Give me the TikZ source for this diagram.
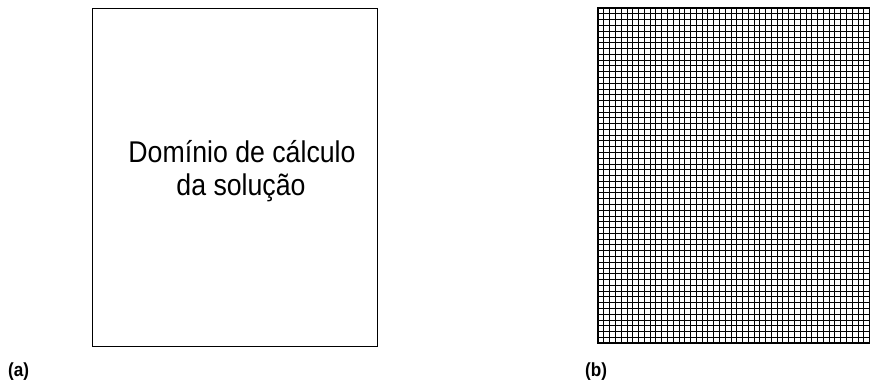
\documentclass[tikz,border=0pt]{standalone}
\usepackage{fontspec}
\setmainfont{Liberation Sans}
\begin{document}
\begin{tikzpicture}[x=1pt,y=-1pt,
  boxline/.style={draw=black,line width=0.9pt},
  gridline/.style={draw=black,line width=0.7pt},
  domtext/.style={font=\fontsize{30}{33}\selectfont\addfontfeatures{FakeStretch=0.89},align=center,inner sep=0pt},
  sublabel/.style={font=\fontsize{19}{22}\selectfont\bfseries\addfontfeatures{FakeStretch=0.9},anchor=base west,inner sep=0pt}]
\useasboundingbox (0,0) rectangle (870,388);
% (a)
\node[boxline,minimum width=285pt,minimum height=338pt,anchor=north west,inner sep=0pt] (dom) at (92,8) {};
\node[domtext,anchor=base] (t1) at (242,162) {Domínio de cálculo};
\node[domtext,anchor=base] (t2) at (241,195) {da solução};
\node[sublabel] (la) at (8,376) {(a)};
% (b)
\begin{scope}
\clip (596,0) rectangle (870,388);
\foreach \i in {0,...,58} {
  \draw[gridline] (598,{8+\i*5.776}) -- (880,{8+\i*5.776});
}
\foreach \j in {0,...,50} {
  \draw[gridline] ({598+\j*5.776},8) -- ({598+\j*5.776},343);
}
\draw[line width=1.4pt] (880,8) -- (598,8) -- (598,343) -- (880,343);
\end{scope}
\coordinate (g) at (598,8);
\node[sublabel] (lb) at (585,376) {(b)};
\end{tikzpicture}
\end{document}
